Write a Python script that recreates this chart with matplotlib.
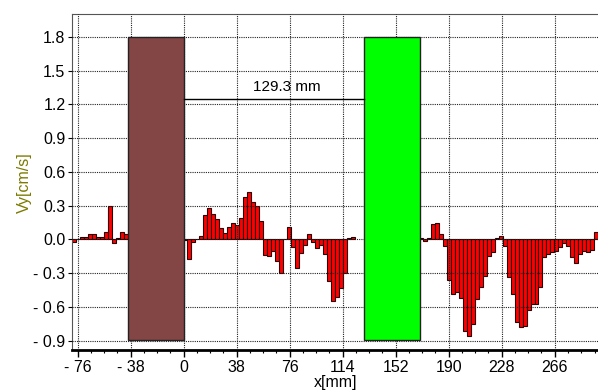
import numpy as np
import matplotlib
matplotlib.use("Agg")
import matplotlib.pyplot as plt
from matplotlib.ticker import FixedLocator, MultipleLocator, FuncFormatter

plt.rcParams['font.family'] = ['Liberation Sans', 'DejaVu Sans']

# bar segments: first bar centre (mm), bar step (mm), Vy values (cm/s)
step = 2.863
seg1_x0 = -78.7
seg1_vy = [-0.02, 0.005, 0.02, 0.02, 0.045, 0.045, 0.025, 0.025, 0.07, 0.30,
           -0.03, 0.015, 0.07, 0.045]
seg2_x0 = 1.0
seg2_vy = [-0.005, -0.17, -0.02, 0.0, 0.035, 0.22, 0.28, 0.23, 0.18, 0.10,
           0.06, 0.11, 0.15, 0.13, 0.19, 0.38, 0.42, 0.33, 0.30, 0.16,
           -0.14, -0.15, -0.10, -0.19, -0.30, 0.0, 0.11, -0.07, -0.25, -0.12,
           -0.05, 0.045, -0.025, -0.08, -0.05, -0.13, -0.37, -0.55, -0.51, -0.43,
           -0.30, 0.01, 0.02]
seg3_x0 = 169.9
seg3_vy = [0.01, -0.015, 0.01, 0.14, 0.15, 0.045, -0.06, -0.36, -0.48, -0.47,
           -0.52, -0.81, -0.86, -0.75, -0.53, -0.42, -0.32, -0.15, -0.11, 0.01,
           0.035, -0.06, -0.33, -0.48, -0.73, -0.78, -0.77, -0.63, -0.57, -0.57,
           -0.42, -0.16, -0.13, -0.11, -0.10, -0.07, -0.03, -0.06, -0.16, -0.21,
           -0.13, -0.10, -0.11, -0.09, 0.07]

# the two blocks (x from, x to, bottom, top)
brown_block = (-40.0, 0.0, -0.89, 1.8)
green_block = (129.3, 169.3, -0.89, 1.8)
dist_y = 1.25
dist_label = "129.3 mm"

xticks = [-76, -38, 0, 38, 76, 114, 152, 190, 228, 266]
yticks = [1.8, 1.5, 1.2, 0.9, 0.6, 0.3, 0.0, -0.3, -0.6, -0.9]

fig = plt.figure(figsize=(5.98, 3.91), dpi=100)
ax = fig.add_axes([0.121, 0.1036, 0.879, 0.8598])

for x0, vy in [(seg1_x0, seg1_vy), (seg2_x0, seg2_vy), (seg3_x0, seg3_vy)]:
    xs = x0 + step * np.arange(len(vy))
    ax.bar(xs, vy, width=step, color='#ff0000', edgecolor='#2a0000',
           linewidth=0.8, zorder=2)

for (x1, x2, b, t), fc in [(brown_block, '#844545'), (green_block, '#00ff00')]:
    ax.bar([(x1 + x2) / 2], [t - b], bottom=b, width=x2 - x1, color=fc,
           edgecolor='#222222', linewidth=1.0, zorder=4)

ax.plot([brown_block[1], green_block[0]], [dist_y, dist_y], color='black',
        lw=1.0, zorder=4)
ax.text(74, 1.352, dist_label, ha='center', va='center', fontsize=11, zorder=5)

ax.set_xlim(-79.7, 297)
ax.set_ylim(-0.986, 2.0)

ax.xaxis.set_major_locator(FixedLocator(xticks))
ax.xaxis.set_minor_locator(MultipleLocator(9.5))
ax.yaxis.set_major_locator(FixedLocator(yticks))


def fmt_x(v, pos):
    return "- %d" % abs(round(v)) if v < 0 else "%d" % round(v)


def fmt_y(v, pos):
    return "- %.1f" % abs(v) if v < -1e-9 else "%.1f" % abs(v)


ax.xaxis.set_major_formatter(FuncFormatter(fmt_x))
ax.yaxis.set_major_formatter(FuncFormatter(fmt_y))
ax.tick_params(axis='both', labelsize=11.5, colors='black')
ax.tick_params(axis='x', which='major', length=5, width=1, pad=2)
ax.tick_params(axis='x', which='minor', length=2, width=0.8)
ax.tick_params(axis='y', which='major', length=3, width=0.8, pad=2)

ax.grid(True, which='major', color='#222222', linestyle=(0, (1, 1)),
        linewidth=0.8, zorder=3)
ax.set_axisbelow(False)

ax.spines['right'].set_visible(False)
ax.spines['top'].set_color('#555555')
ax.spines['left'].set_color('#555555')
ax.spines['bottom'].set_color('black')
ax.spines['bottom'].set_linewidth(2)

ax.set_xlabel('x[mm]', fontsize=11.5, labelpad=0)
ax.set_ylabel('Vy[cm/s]', fontsize=11.5, color='#7a7a00', labelpad=1)

fig.savefig('out.png', dpi=100)
